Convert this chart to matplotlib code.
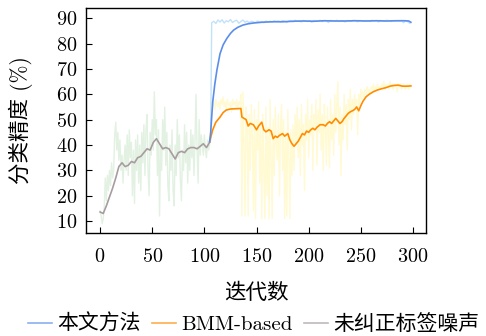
import numpy as np
import matplotlib
matplotlib.use('Agg')
import matplotlib.pyplot as plt

plt.rcParams['font.family'] = ['cmr10', 'Noto Sans CJK SC', 'DejaVu Sans']
plt.rcParams['axes.formatter.use_mathtext'] = True
plt.rcParams['mathtext.fontset'] = 'cm'

# --- smoothed curves (epoch, accuracy) ---
gray_x = [0, 3, 6, 9, 12, 15, 18, 21, 24, 27, 30, 33, 36, 39, 42, 45, 48, 51, 54, 57,
          60, 63, 66, 69, 72, 75, 78, 81, 84, 87, 90, 93, 96, 99, 102, 105]
gray_y = [13.6, 13.0, 16.0, 19.5, 23.0, 27.0, 31.5, 33.0, 31.5, 32.0, 33.5, 33.0, 35.0, 35.5,
          37.0, 38.5, 38.0, 41.0, 42.5, 40.5, 38.5, 39.0, 38.5, 36.5, 34.5, 37.0, 37.5, 37.0,
          38.5, 39.0, 39.0, 38.5, 39.5, 40.5, 39.0, 41.0]

orange_x = [105, 108, 111, 115, 118, 121, 125, 130, 135, 136, 138, 140, 142, 144, 147, 150,
            152, 155, 157, 159, 162, 164, 166, 168, 170, 172, 175, 177, 180, 182, 184, 186,
            188, 190, 192, 194, 196, 198, 200, 202, 204, 206, 208, 211, 214, 216, 218, 220,
            222, 224, 226, 228, 230, 232, 234, 236, 238, 240, 242, 244, 246, 248, 250, 252,
            255, 258, 262, 266, 270, 274, 278, 282, 286, 290, 294, 298]
orange_y = [41.3, 46.0, 49.0, 51.0, 52.8, 53.8, 54.2, 54.3, 54.4, 51.0, 50.5, 50.0, 47.5,
            48.5, 48.0, 46.0, 47.5, 49.0, 46.0, 45.2, 46.0, 45.5, 42.5, 43.5, 43.0, 43.8,
            44.5, 43.5, 44.5, 42.0, 40.5, 39.5, 40.5, 41.5, 43.0, 44.5, 44.0, 45.5, 45.0,
            46.0, 46.6, 46.0, 47.0, 48.0, 48.0, 47.5, 48.5, 49.2, 48.5, 49.5, 50.5, 49.5,
            48.5, 49.2, 50.5, 51.5, 52.5, 53.1, 53.5, 54.0, 55.0, 53.5, 55.5, 57.2, 59.0,
            60.0, 61.0, 61.7, 62.2, 62.6, 63.2, 63.5, 63.6, 63.2, 63.2, 63.3]

blue_x = [105, 106, 107, 108, 110, 112, 115, 118, 121.5, 125, 128, 132, 137, 142, 147, 155,
          165, 175, 185, 195, 205, 215, 225, 235, 245, 255, 265, 275, 285, 292, 296, 298]
blue_y = [41.3, 44.7, 51.0, 57.0, 64.0, 69.5, 76.0, 79.5, 82.0, 84.0, 85.3, 86.4, 87.3, 87.8,
          88.1, 88.4, 88.6, 88.6, 88.8, 88.9, 88.8, 89.0, 88.9, 88.9, 89.0, 88.9, 89.0, 88.9,
          89.0, 89.0, 88.9, 88.4]

# --- raw (unsmoothed) curves ---
green_raw = [14, 12, 9, 11, 16, 27, 18, 28, 22, 30, 24, 33, 27, 30, 44, 49, 38, 45, 34, 42,
             30, 36, 25, 34, 40, 30, 44, 28, 46, 35, 41, 20, 38, 17, 42, 30, 44, 25, 40, 22,
             45, 33, 48, 28, 46, 52, 30, 20, 45, 36, 50, 38, 61, 44, 50, 28, 46, 12, 40, 30,
             50, 38, 55, 32, 45, 24, 18, 40, 30, 46, 22, 16, 40, 28, 50, 35, 44, 26, 18, 38,
             30, 48, 33, 45, 25, 40, 30, 46, 35, 44, 28, 42, 60, 38, 25, 50, 36, 44, 40, 36,
             44, 38, 35, 42, 38, 40]

yellow_raw = [41, 45, 52, 55, 57, 54, 58, 56, 55, 57, 54, 58, 56, 59, 55, 57, 54, 58, 56, 55,
              57, 53, 58, 56, 57, 55, 58, 54, 57, 56, 60,
              12, 61, 40, 12, 55, 48, 12, 52, 30, 56, 44, 14, 54, 11, 50, 38, 57, 25, 48, 11,
              52, 30, 11, 55, 20, 47, 11, 58, 35, 11, 50, 28, 55, 40, 34, 52, 20, 48, 56, 30,
              50, 11, 45, 12, 54, 38, 11, 46, 28, 48, 30, 52,
              40, 55, 35, 50, 28, 56, 40, 48, 22, 52, 42, 58, 35, 50, 44, 56, 30, 52, 46, 58,
              32, 54, 45, 60, 38, 52, 30, 56, 48, 32, 55, 44, 31, 58, 42, 52, 36, 60, 45, 56,
              65, 40, 55, 28, 52, 42, 60, 48, 56, 38, 58, 50, 62, 46, 58, 52, 60, 55,
              58, 44, 60, 56, 62, 58, 61, 59, 62, 60, 63, 61, 62, 60, 63, 62, 64, 61, 63, 62,
              64, 62, 63, 62, 64, 63, 65, 62, 64, 63, 64, 62, 65, 63, 64, 62, 64, 63, 64, 61,
              64, 63, 64, 62, 63, 64, 63, 62, 64, 63, 62, 64, 63]

lightblue_raw = [41, 42,
                 88.2, 88.8, 87.9, 89.3, 88.5, 89.4, 88.1, 89.0, 88.6, 89.5, 88.3, 88.9, 89.2,
                 88.0, 88.7, 89.3, 88.4, 88.9, 88.2, 88.8,
                 88.6, 88.3, 88.9, 88.5, 88.7, 88.2, 88.9, 88.6, 88.8, 88.4, 89.0, 88.7, 88.9,
                 88.5, 89.1, 88.8, 88.3, 88.9, 89.0, 88.6, 89.2, 88.8, 88.9, 88.5, 89.1, 88.9,
                 88.7, 89.0, 88.4, 89.1, 88.9, 88.8, 89.2, 88.6, 89.0, 88.9, 88.3, 89.1, 89.0,
                 88.8, 89.2, 88.7, 89.0, 88.9, 88.5, 89.1, 89.0, 88.8, 89.2, 88.9, 88.6, 89.1,
                 89.0, 88.8, 89.1, 88.9, 88.7, 89.2, 88.9, 89.0, 88.5, 89.1, 88.9, 88.8, 89.2,
                 89.0, 88.7, 89.1, 88.9, 89.0, 88.8, 89.1, 88.2, 89.0, 88.6, 88.0]

labels = ['本文方法', 'BMM-based', '未纠正标签噪声']

green_x = np.arange(len(green_raw))
yellow_x = np.arange(105, 105 + len(yellow_raw))
lightblue_x = [105, 106] + list(range(107, 107 + 2 * (len(lightblue_raw) - 2), 2))

fig = plt.figure(figsize=(4.86, 3.36), dpi=100)
ax = fig.add_axes([0.177, 0.3065, 0.6995, 0.6695])

ax.plot(green_x, green_raw, color='#dbeedb', lw=1.0, alpha=0.8)
ax.plot(yellow_x, yellow_raw, color='#fffad2', lw=1.0)
ax.plot(lightblue_x, lightblue_raw, color='#c2e2f8', lw=1.0)

ax.plot(gray_x, gray_y, color='#a89ca0', lw=1.2, label=labels[2])
ax.plot(orange_x, orange_y, color='#ff8c00', lw=1.2, label=labels[1])
ax.plot(blue_x, blue_y, color='#5b8eea', lw=1.2, label=labels[0])

ax.set_xlim(-13.5, 312.5)
ax.set_ylim(5.3, 94)
ax.set_xticks([0, 50, 100, 150, 200, 250, 300])
ax.set_yticks([10, 20, 30, 40, 50, 60, 70, 80, 90])
ax.tick_params(direction='in', length=4, width=0.8, labelsize=14.5)
ax.tick_params(axis='x', pad=11)
ax.tick_params(axis='y', pad=6)
for s in ax.spines.values():
    s.set_linewidth(1.0)

ax.set_xlabel('迭代数', fontsize=15.5, labelpad=12)
ax.set_ylabel('分类精度 (%)', fontsize=15.5, labelpad=17)

h, l = ax.get_legend_handles_labels()
order = [2, 1, 0]
leg = ax.legend([h[i] for i in order], [l[i] for i in order], loc='center',
                bbox_to_anchor=(0.494, -0.405), ncol=3, frameon=False, fontsize=15,
                handlelength=1.15, columnspacing=0.55, handletextpad=0.25)
for line in leg.get_lines():
    line.set_alpha(0.7)

plt.savefig('out.png', dpi=100)
plt.close()
